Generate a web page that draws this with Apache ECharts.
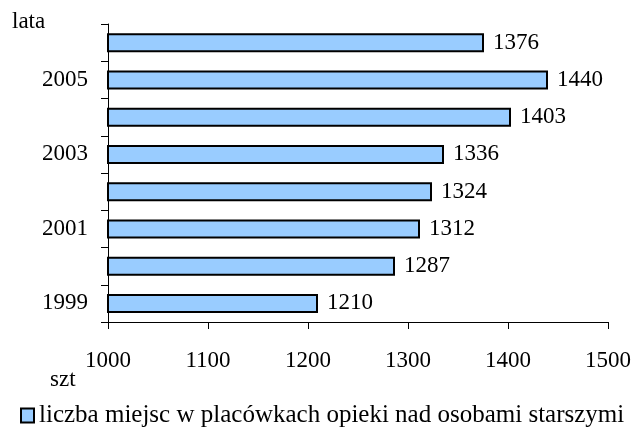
<!DOCTYPE html>
<html>
<head>
<meta charset="utf-8">
<script src="https://cdn.jsdelivr.net/npm/echarts@6/dist/echarts.min.js"></script>
<style>html,body{margin:0;padding:0;background:#fff}#c{width:635px;height:429px}</style>
</head>
<body>
<div id="c"></div>
<script>
const years = ['1999','2000','2001','2002','2003','2004','2005','2006'];
const places = [1210, 1287, 1312, 1324, 1336, 1403, 1440, 1376];
const seriesName = 'liczba miejsc w placówkach opieki nad osobami starszymi';
const xTicks = {min: 1000, max: 1500, step: 100};
const yAxisTitle = 'lata';
const xAxisTitle = 'szt';

const FONT = '"Liberation Serif", "DejaVu Serif", serif';
const chart = echarts.init(document.getElementById('c'), null, {renderer: 'canvas'});
chart.setOption({
  animation: false,
  backgroundColor: '#fff',
  textStyle: {fontFamily: FONT},
  grid: {left: 108, right: 27, top: 24, bottom: 107, containLabel: false},
  title: [
    {text: yAxisTitle, left: 12, top: 10, textStyle: {fontFamily: FONT, fontSize: 23, fontWeight: 'normal', color: '#000'}, padding: 0},
    {text: xAxisTitle, left: 50, top: 368, textStyle: {fontFamily: FONT, fontSize: 23, fontWeight: 'normal', color: '#000'}, padding: 0}
  ],
  legend: {
    left: 20, top: 403, padding: 0,
    icon: 'rect', itemWidth: 13, itemHeight: 14,
    itemStyle: {borderColor: '#000', borderWidth: 2},
    textStyle: {fontFamily: FONT, fontSize: 25, color: '#000'},
    data: [seriesName]
  },
  xAxis: {
    type: 'value', min: xTicks.min, max: xTicks.max, interval: xTicks.step,
    axisLine: {show: true, lineStyle: {color: '#000', width: 1}},
    axisTick: {show: true, inside: false, length: 7, lineStyle: {color: '#000'}},
    splitLine: {show: false},
    axisLabel: {fontFamily: FONT, fontSize: 23, color: '#000', margin: 27, formatter: v => String(v)}
  },
  yAxis: {
    type: 'category', data: years, boundaryGap: true,
    axisLine: {show: true, lineStyle: {color: '#000', width: 1}},
    axisTick: {show: true, inside: false, length: 7, interval: 0, alignWithLabel: false, lineStyle: {color: '#000'}},
    axisLabel: {fontFamily: FONT, fontSize: 23, color: '#000', margin: 20, interval: 1}
  },
  series: [{
    name: seriesName, type: 'bar', data: places, barWidth: 19,
    itemStyle: {color: '#99CCFF', borderColor: '#000', borderWidth: 2},
    label: {show: true, position: 'right', distance: 9, fontFamily: FONT, fontSize: 23, color: '#000', formatter: p => String(p.value)}
  }]
});
</script>
</body>
</html>
